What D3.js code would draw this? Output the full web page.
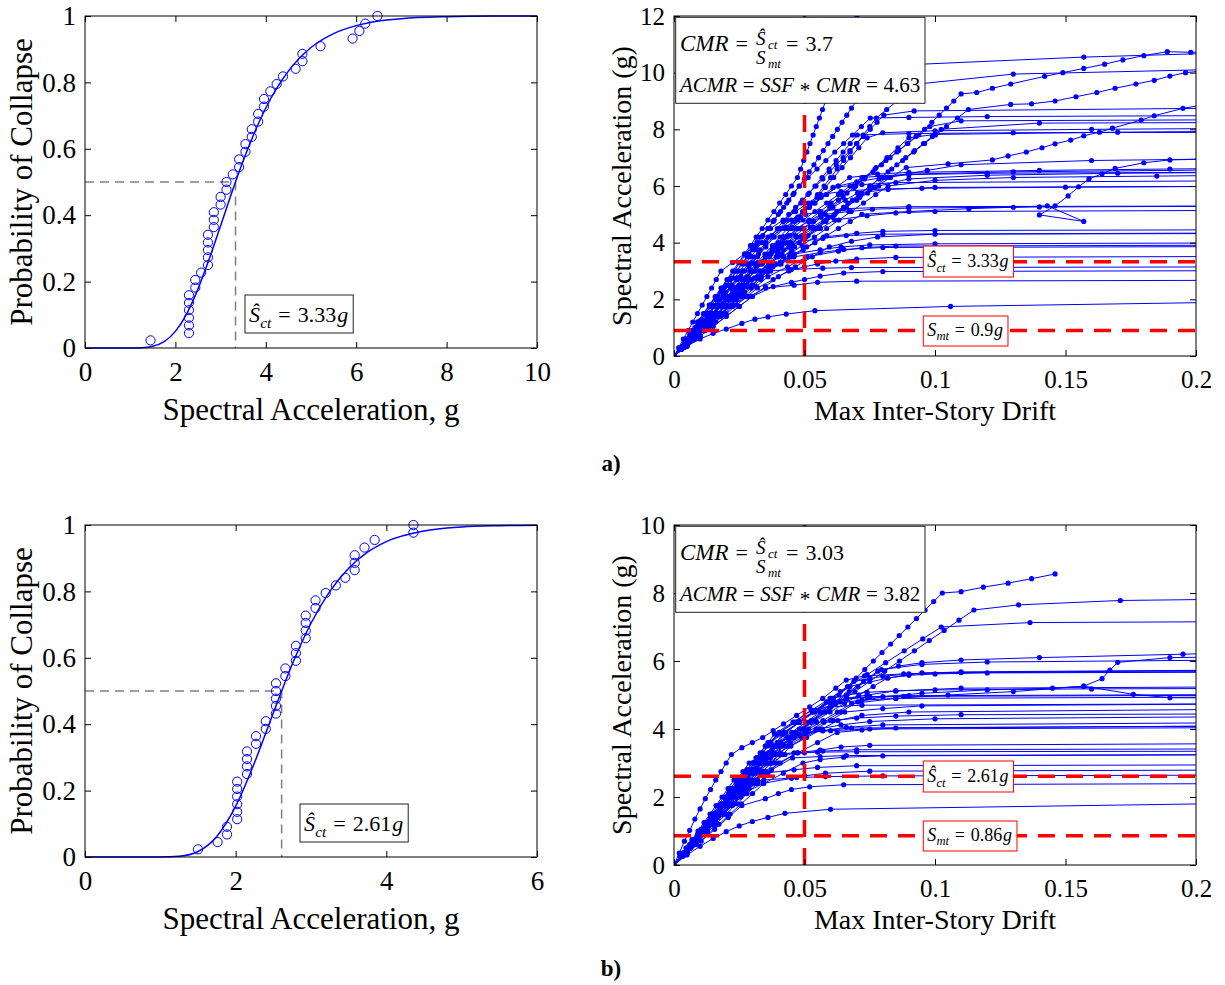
<!DOCTYPE html>
<html><head><meta charset="utf-8">
<script src="https://cdn.jsdelivr.net/npm/d3@7"></script>
<style>
body{margin:0;background:#fff}
svg{display:block}
text{font-family:"Liberation Serif","Times New Roman",serif;fill:#000}
</style>
</head><body>
<svg id="c" width="1225" height="985"></svg>
<script>
// ================= DATA =================
const collapseSaA=[1.45,2.30,2.30,2.30,2.30,2.30,2.30,2.44,2.44,2.57,2.72,2.72,2.72,2.72,2.72,2.85,2.85,2.85,3.00,3.00,3.13,3.13,3.27,3.41,3.41,3.55,3.55,3.69,3.69,3.83,3.83,3.96,3.96,4.10,4.24,4.38,4.66,4.81,4.81,5.21,5.92,6.07,6.20,6.47];
const collapseSaB=[1.50,1.76,1.885,1.885,2.02,2.02,2.02,2.02,2.02,2.02,2.15,2.15,2.15,2.15,2.27,2.27,2.40,2.40,2.535,2.535,2.535,2.535,2.535,2.66,2.66,2.80,2.80,2.80,2.93,2.93,2.93,2.93,3.06,3.06,3.195,3.33,3.455,3.58,3.58,3.58,3.71,3.845,4.36,4.36];
const probEmp=[0.023,0.045,0.068,0.091,0.114,0.136,0.159,0.182,0.205,0.227,0.250,0.273,0.295,0.318,0.341,0.364,0.386,0.409,0.432,0.455,0.477,0.500,0.523,0.545,0.568,0.591,0.614,0.636,0.659,0.682,0.705,0.727,0.750,0.773,0.795,0.818,0.841,0.864,0.886,0.909,0.932,0.955,0.977,1.000];
const fitA_x=[0,0.5,1,1.25,1.5,1.75,2,2.25,2.5,2.75,3,3.25,3.5,3.75,4,4.25,4.5,5,5.5,6,6.5,7,8,9,10];
const fitA_p=[0,0,0.0001,0.0008,0.005,0.019,0.050,0.103,0.178,0.269,0.368,0.469,0.564,0.649,0.723,0.784,0.834,0.905,0.947,0.971,0.985,0.992,0.998,1.0,1.0];
const fitB_x=[0,0.5,1,1.25,1.5,1.75,2,2.25,2.5,2.75,3,3.25,3.5,3.75,4,4.5,5,5.5,6];
const fitB_p=[0,0,0.0001,0.0023,0.0166,0.062,0.153,0.284,0.434,0.580,0.704,0.800,0.870,0.918,0.950,0.982,0.994,0.998,0.9995];
const medianA=3.33, medianB=2.61;
const smtA=0.9, smtB=0.86;
const driftLimit=0.05;
const cmrA="3.7", acmrA="4.63", cmrB="3.03", acmrB="3.82";
const sctLabelA="3.33", sctLabelB="2.61", smtLabelA="0.9", smtLabelB="0.86";

const fragTicksXA=[0,2,4,6,8,10], fragTicksXB=[0,2,4,6];
const probTicks=[0,0.2,0.4,0.6,0.8,1];
const driftTicks=[0,0.05,0.1,0.15,0.2];
const saTicksA=[0,2,4,6,8,10,12], saTicksB=[0,2,4,6,8,10];

// IDA intensity levels (g) used by the runs
const saGrid1=[0.3,0.6,0.9,1.2,1.5,1.8,2.1,2.4,2.7,3.0,3.3,3.6,3.9,4.2,4.5,4.8,5.1,5.4,5.7,6.0,6.3,6.6,6.9,7.2,7.5,7.8,8.1,8.4,8.7,9.0,9.3,9.6,9.9,10.2,10.5,10.8,11.1,11.4,11.7,12.0,12.3,12.6];
const saGrid2=[0.25,0.5,0.75,1,1.25,1.5,1.75,2,2.25,2.5,2.75,3,3.25,3.5,3.75,4,4.25,4.5,4.75,5,5.25,5.5,5.75,6,6.25,6.5,6.75,7,7.25,7.5,7.75,8,8.25,8.5,8.75,9,9.25,9.5,9.75,10,10.25];
const saGrid3=[0.35,0.7,1.05,1.4,1.75,2.1,2.45,2.8,3.15,3.5,3.85,4.2,4.55,4.9,5.25,5.6,5.95,6.3,6.65,7,7.35,7.7,8.05,8.4,8.75,9.1,9.45,9.8,10.15,10.5,10.85,11.2,11.55,11.9,12.25];

// (a) IDA records: g = intensity grid, d = max drift at each level, tail = [drift, Sa] near/after collapse
const idaA=[
{g:1,d:[.0023,.0045,.0068,.009,.0113,.0135,.0158,.018,.0203,.0225,.0248,.027,.0293,.0315,.0338,.036,.0383,.0405,.0428,.045,.0473,.0485,.0497,.0509,.0521,.0533,.0545,.0557,.0569,.0581,.0593,.0605,.0617,.0629,.0641,.0653,.0665,.0677,.0689,.0701,.0713,.0725],tail:[]},
{g:2,d:[.002,.004,.006,.008,.01,.012,.014,.016,.018,.02,.022,.024,.026,.028,.03,.032,.034,.036,.038,.04,.042,.044,.046,.048,.05,.0518,.0536,.0554,.0572,.059,.0608,.0626,.0644,.0662,.068,.0698,.0728,.0758,.0788,.0818,.0848],tail:[[.095,10.3],[.157,10.55],[.25,10.8]]},
{g:1,d:[.003,.006,.009,.012,.015,.018,.021,.024,.027,.03,.033,.036,.039,.042,.045,.0475,.05,.0525,.055,.0575,.06,.0625,.065,.0675,.07,.0725,.075,.0775,.0815,.0855,.0895,.0935],tail:[[.13,9.95],[.25,10.2]]},
{g:2,d:[.0025,.005,.0075,.01,.0125,.015,.0175,.02,.0225,.025,.0275,.03,.0333,.0366,.0399,.0432,.0465,.0498,.0531,.0564,.0597,.063,.0663,.0696,.0729,.0762,.0795,.0828,.0861,.0894,.0927,.096,.0988,.1016,.1044,.1072,.11],tail:[[.116,9.3],[.122,9.45],[.129,9.6],[.142,9.87],[.149,10],[.157,10.15],[.165,10.3],[.172,10.45],[.18,10.6],[.189,10.74],[.198,10.72],[.25,10.8]]},
{g:1,d:[.0033,.0066,.0099,.0132,.0165,.0198,.0231,.0264,.0297,.033,.0372,.0414,.0456,.0498,.054,.0582,.0624,.0666,.0708,.075,.0792,.0834,.0876,.0918,.096,.1002,.1044,.1086,.1128],tail:[[.129,8.88],[.137,8.9],[.146,9],[.154,9.15],[.162,9.3],[.169,9.45],[.177,9.6],[.184,9.73],[.19,9.88],[.196,10],[.25,10.5]]},
{g:3,d:[.0035,.007,.0105,.014,.0175,.021,.0245,.028,.0315,.035,.041,.047,.053,.059,.065,.071,.077,.083,.089],tail:[[.105,6.78],[.122,6.92],[.128,7.06],[.135,7.2],[.141,7.35],[.146,7.49],[.152,7.62],[.157,7.77],[.163,7.9],[.168,8.04],[.179,8.33],[.184,8.48],[.195,8.74],[.25,9.6]]},
{g:2,d:[.003,.006,.009,.012,.015,.018,.021,.024,.027,.03,.033,.036,.0405,.045,.0495,.054,.0585,.063,.0675,.072],tail:[[.09,5.1],[.113,5.2],[.13,5.25],[.143,5.3],[.157,4.75],[.14,4.98],[.146,5.3],[.151,5.65],[.155,5.97],[.159,6.25],[.164,6.43],[.169,6.62],[.18,6.82],[.19,6.92],[.25,7.05]]},
{g:1,d:[.0024,.0048,.0072,.0096,.012,.0144,.0168,.0192,.0216,.024,.0264,.0288,.0312,.0336,.036,.0384,.0408,.0432,.0456,.048,.0514,.0548,.0582,.0616,.065,.0684,.0718,.0752],tail:[[.09,8.42],[.12,8.45],[.25,8.5]]},
{g:2,d:[.0022,.0044,.0066,.0088,.011,.0132,.0154,.0176,.0198,.022,.0242,.0264,.0286,.0308,.033,.0352,.0374,.0396,.0418,.044,.0466,.0492,.0518,.0544,.057,.0596,.0622,.0648,.0674,.07,.0726,.0752,.0778,.0804],tail:[[.092,8.65],[.25,8.78]]},
{g:3,d:[.0035,.007,.0105,.014,.0175,.021,.0245,.028,.0315,.035,.0385,.042,.0452,.0484,.0516,.0548,.058,.0612,.0644,.0676,.0708,.074],tail:[[.08,7.88],[.1,7.95],[.16,8],[.25,8.05]]},
{g:1,d:[.0031,.0062,.0093,.0124,.0155,.0186,.0217,.0248,.0279,.031,.0341,.0372,.0403,.0434,.0476,.0518,.056,.0602,.0644,.0686,.0728,.077,.0812,.0854,.0896,.0938,.098],tail:[[.11,8.3],[.25,8.35]]},
{g:2,d:[.003,.006,.009,.012,.015,.018,.021,.024,.027,.03,.033,.036,.039,.042,.045,.048,.0514,.0548,.0582,.0616,.065,.0684,.0718,.0752,.0786,.082,.0854,.0888,.0922,.0956,.099,.1024],tail:[[.14,8.22],[.25,8.25]]},
{g:1,d:[.0027,.0054,.0081,.0108,.0135,.0162,.0189,.0216,.0243,.027,.0297,.0324,.0351,.0378,.0405,.0432,.0459,.0486,.0513,.054,.0567,.0594,.0621,.0648,.0675,.0702],tail:[[.09,7.85],[.13,7.88],[.25,7.9]]},
{g:3,d:[.004,.008,.012,.016,.02,.024,.028,.032,.036,.04,.044,.048,.0522,.0564,.0606,.0648,.069,.0732,.0774,.0816,.0858,.09],tail:[[.1,7.82],[.17,7.9],[.25,7.95]]},
{g:1,d:[.003,.006,.009,.012,.015,.018,.021,.024,.027,.03,.033,.036,.039,.042,.045,.0495,.054,.0585,.063,.0675,.072],tail:[[.09,6.42],[.13,6.5],[.25,6.6]]},
{g:2,d:[.0028,.0056,.0084,.0112,.014,.0168,.0196,.0224,.0252,.028,.0308,.0336,.0364,.0392,.042,.0448,.049,.0532,.0574,.0616,.0658,.07,.0742,.0784],tail:[[.09,6.25],[.12,6.38],[.17,6.45],[.25,6.5]]},
{g:3,d:[.0032,.0064,.0096,.0128,.016,.0192,.0224,.0256,.0288,.032,.0352,.0384,.0429,.0474,.0519,.0564,.0609],tail:[[.072,6.05],[.085,6.12],[.25,6.2]]},
{g:1,d:[.0037,.0074,.0111,.0148,.0185,.0222,.0259,.0296,.0333,.037,.0407,.0444,.0491,.0538,.0585,.0632,.0679,.0726,.0773,.082],tail:[[.1,6.2],[.13,6.3],[.185,6.35],[.25,6.4]]},
{g:2,d:[.0026,.0052,.0078,.0104,.013,.0156,.0182,.0208,.0234,.026,.0286,.0312,.0338,.0364,.039,.0416,.0442,.0468,.0515,.0562,.0609,.0656,.0703],tail:[[.082,5.88],[.1,5.95],[.25,6]]},
{g:3,d:[.0042,.0084,.0126,.0168,.021,.0252,.0294,.0336,.0378,.042,.0462,.0504,.0556,.0608,.066,.0712,.0764,.0816],tail:[[.097,6.55],[.11,6.75],[.16,6.9],[.25,7]]},
{g:1,d:[.0029,.0058,.0087,.0116,.0145,.0174,.0203,.0232,.0261,.029,.0319,.0348,.0377,.0406,.0435,.0464,.0493,.0538,.0583,.0628,.0673],tail:[[.078,6.42],[.09,6.48],[.14,6.55],[.19,6.6],[.25,6.65]]},
{g:2,d:[.0025,.005,.0075,.01,.0125,.015,.0175,.02,.0225,.025,.0275,.03,.0325,.035,.0375,.04,.0445,.049,.0535,.058],tail:[[.067,5.1],[.076,5.18],[.09,5.22],[.14,5.26],[.25,5.3]]},
{g:1,d:[.0033,.0066,.0099,.0132,.0165,.0198,.0231,.0264,.0297,.033,.0363,.0396,.0451,.0506,.0561,.0616],tail:[[.074,4.95],[.085,5.05],[.1,5.1],[.25,5.15]]},
{g:3,d:[.0042,.0084,.0126,.0168,.021,.0252,.0294,.0336,.0378,.0443,.0508,.0573],tail:[[.07,4.33],[.08,4.4],[.1,4.43],[.25,4.46]]},
{g:2,d:[.0022,.0044,.0066,.0088,.011,.0132,.0154,.0176,.0198,.022,.0242,.0264,.0309,.0354,.0399,.0444],tail:[[.057,4.15],[.066,4.25],[.08,4.3],[.25,4.35]]},
{g:1,d:[.0033,.0066,.0099,.0132,.0165,.0198,.0231,.0264,.0297,.0352,.0407,.0462],tail:[[.056,3.75],[.064,3.85],[.075,3.92],[.1,3.96],[.25,4]]},
{g:3,d:[.0045,.009,.0135,.018,.0225,.027,.0315,.036,.0435,.051],tail:[[.063,3.7],[.072,3.82],[.085,3.88],[.25,3.92]]},
{g:2,d:[.0026,.0052,.0078,.0104,.013,.0156,.0182,.0208,.0234,.026,.031,.036,.041,.046],tail:[[.056,3.65],[.065,3.76],[.08,3.83],[.25,3.87]]},
{g:1,d:[.004,.008,.012,.016,.02,.024,.028,.032,.038,.044],tail:[[.05,3.15],[.055,3.25],[.062,3.35],[.07,3.42],[.085,3.48],[.25,3.52]]},
{g:2,d:[.0025,.005,.0075,.01,.0125,.015,.0175,.02,.0225,.027,.0315,.036],tail:[[.045,3.05],[.057,3.1],[.068,3.12],[.25,3.15]]},
{g:3,d:[.005,.01,.015,.02,.025,.03,.038],tail:[[.045,2.6],[.05,2.7],[.056,2.82],[.065,2.93],[.08,2.98],[.25,3.02]]},
{g:1,d:[.0037,.0074,.0111,.0148,.0185,.0222,.0287,.0352],tail:[[.046,2.5],[.055,2.6],[.07,2.64],[.25,2.68]]},
{g:1,d:[],tail:[[.005,.35],[.01,.6],[.015,.8],[.02,.95],[.026,1.15],[.031,1.3],[.036,1.38],[.043,1.48],[.054,1.6],[.106,1.75],[.25,1.95]]},
{g:2,d:[.0021,.0042,.0063,.0084,.0105,.0126,.0147,.0168,.0189,.021,.0231,.0252,.0273,.0294,.0315,.0336,.0378,.042,.0462,.0504],tail:[[.056,5.1],[.065,5.2],[.09,5.27],[.25,5.3]]},
{g:1,d:[.0023,.0046,.0069,.0092,.0115,.0138,.0161,.0184,.0207,.023,.0253,.0276,.0299,.0322,.037,.0418,.0466,.0514,.0562],tail:[[.064,5.8],[.075,5.88],[.095,5.92],[.15,5.96],[.25,6]]},
{g:3,d:[.005,.01,.015,.02,.025,.03,.035,.04,.0465,.053,.0595],tail:[[.068,4.05],[.078,4.2],[.1,4.3],[.25,4.33]]},
{g:1,d:[.0018,.0036,.0054,.0072,.009,.0108,.0126,.0144,.0162,.018,.0225,.027,.0315,.036,.0405,.045,.0495,.054,.0585,.063],tail:[[.07,6.15],[.08,6.3],[.09,6.4],[.12,6.45],[.25,6.5]]}
];

// (b) IDA records
const idaB=[
{g:2,d:[.0025,.005,.0075,.01,.0125,.015,.0175,.02,.0225,.025,.0275,.03,.035,.04,.045,.05,.0533,.0566,.0599,.0632,.0665,.0698,.0731,.0764,.0797,.083,.0863,.0896,.0929,.0962,.0995,.1028],tail:[[.11,8.04],[.1185,8.17],[.128,8.29],[.137,8.42],[.146,8.56]]},
{g:1,d:[.0034,.0068,.0102,.0136,.017,.0204,.0238,.0272,.0306,.034,.0374,.0408,.0465,.0522,.0579,.0636,.0693,.075,.0807,.0864,.0921,.0978,.1035,.1092,.1149],tail:[[.132,7.65],[.171,7.78],[.25,7.85]]},
{g:3,d:[.0035,.007,.0105,.014,.0175,.021,.0245,.028,.0315,.035,.0385,.0456,.0527,.0598,.0669,.074,.0811,.0882,.0953,.1024],tail:[[.1364,7.13],[.25,7.17]]},
{g:1,d:[],tail:[[.002,.35],[.004,.7],[.006,1.02],[.008,1.35],[.01,1.65],[.012,1.95],[.014,2.22],[.016,2.5],[.018,2.75],[.02,3],[.022,3.25],[.026,3.45],[.03,3.6],[.034,3.75],[.038,3.95],[.042,4.15],[.047,4.4],[.052,4.65],[.057,4.9],[.062,5.2],[.066,5.44],[.073,5.56],[.088,5.62],[.11,5.68],[.25,5.75]]},
{g:1,d:[.0033,.0066,.0099,.0132,.0165,.0198,.0231,.0264,.0297,.033,.0363,.0396,.0451,.0506,.0561,.0616,.0671,.0726,.0781],tail:[[.086,5.85],[.095,5.95],[.11,6.03],[.14,6.1],[.195,6.2],[.25,6.3]]},
{g:2,d:[.003,.006,.009,.012,.015,.018,.021,.024,.027,.03,.033,.036,.039,.042,.045,.048,.0525,.057,.0615,.066,.0705,.075,.0795],tail:[[.095,5.9],[.12,5.97],[.25,6.05]]},
{g:3,d:[.0038,.0076,.0114,.0152,.019,.0228,.0266,.0304,.0342,.038,.0418,.0482,.0546,.061,.0674],tail:[[.082,5.5],[.095,5.65],[.25,5.75]]},
{g:1,d:[.0037,.0074,.0111,.0148,.0185,.0222,.0259,.0296,.0333,.037,.0407,.0444,.0509,.0574,.0639,.0704],tail:[[.08,4.95],[.095,5.05],[.12,5.15],[.145,5.2],[.157,5.26],[.176,5.02],[.19,4.92],[.25,4.9]]},
{g:2,d:[.0029,.0058,.0087,.0116,.0145,.0174,.0203,.0232,.0261,.029,.0319,.0348,.0377,.0406,.0461,.0516,.0571,.0626,.0681],tail:[[.085,4.9],[.105,5],[.13,5.1],[.157,5.26],[.164,5.48],[.167,5.73],[.17,5.96],[.19,6.1],[.25,6.15]]},
{g:3,d:[.0039,.0078,.0117,.0156,.0195,.0234,.0273,.0312,.0351,.039,.0458,.0526,.0594,.0662],tail:[[.074,5],[.085,5.12],[.11,5.2],[.25,5.25]]},
{g:1,d:[.0031,.0062,.0093,.0124,.0155,.0186,.0217,.0248,.0279,.031,.0341,.0372,.0403,.0468,.0533,.0598],tail:[[.066,4.9],[.075,4.95],[.09,4.98],[.25,5.02]]},
{g:2,d:[.0031,.0062,.0093,.0124,.0155,.0186,.0217,.0248,.0279,.031,.0341,.0372,.0403,.0434,.0489,.0544,.0599,.0654],tail:[[.08,4.6],[.095,4.68],[.25,4.75]]},
{g:3,d:[.0038,.0076,.0114,.0152,.019,.0228,.0266,.0304,.0342,.038,.0418,.048,.0542,.0604],tail:[[.066,5],[.074,5.08],[.085,5.12],[.1,5.15],[.16,5.18],[.25,5.2]]},
{g:1,d:[.003,.006,.009,.012,.015,.018,.021,.024,.027,.03,.033,.036,.042,.048,.054,.06],tail:[[.066,4.88],[.074,4.93],[.088,4.96],[.25,5]]},
{g:2,d:[.0028,.0056,.0084,.0112,.014,.0168,.0196,.0224,.0252,.028,.0308,.0336,.0391,.0446,.0501,.0556],tail:[[.064,4.12],[.075,4.22],[.1,4.3],[.25,4.38]]},
{g:3,d:[.0037,.0074,.0111,.0148,.0185,.0222,.0259,.0296,.0333,.0403,.0473],tail:[[.057,3.95],[.066,4.05],[.08,4.12],[.25,4.2]]},
{g:1,d:[.004,.008,.012,.016,.02,.024,.028,.032,.036,.04,.0475,.055,.0625],tail:[[.072,3.97],[.085,4.03],[.25,4.1]]},
{g:2,d:[.0024,.0048,.0072,.0096,.012,.0144,.0168,.0192,.0216,.024,.0264,.0288,.0338,.0388,.0438],tail:[[.05,3.85],[.057,3.95],[.068,4.03],[.25,4.1]]},
{g:3,d:[.0041,.0082,.0123,.0164,.0205,.0246,.0287,.0328,.0369,.041,.0478,.0546],tail:[[.061,4.25],[.07,4.32],[.085,4.38],[.11,4.42],[.25,4.45]]},
{g:1,d:[.0038,.0076,.0114,.0152,.019,.0228,.0266,.0304,.0342,.0407,.0472],tail:[[.056,3.38],[.064,3.47],[.075,3.52],[.25,3.58]]},
{g:2,d:[.0026,.0052,.0078,.0104,.013,.0156,.0182,.0208,.0234,.026,.0315,.037,.0425],tail:[[.05,3.3],[.057,3.35],[.07,3.39],[.25,3.42]]},
{g:3,d:[.0042,.0084,.0126,.0168,.021,.0252,.0294,.0374,.0454],tail:[[.056,3.19],[.066,3.22],[.25,3.25]]},
{g:1,d:[.0043,.0086,.0129,.0172,.0215,.0258,.0301,.0344,.0419,.0494],tail:[[.056,3.1],[.065,3.17],[.08,3.21],[.25,3.25]]},
{g:2,d:[.0023,.0046,.0069,.0092,.0115,.0138,.0161,.0184,.0207,.023,.028,.033,.038],tail:[[.046,3.3],[.055,3.32],[.07,3.33],[.25,3.35]]},
{g:1,d:[.0038,.0076,.0114,.0152,.019,.0228,.0266,.0341],tail:[[.045,2.55],[.05,2.62],[.058,2.7],[.075,2.76],[.25,2.8]]},
{g:2,d:[.0028,.0056,.0084,.0112,.014,.0168,.0196,.0224,.0284,.0344],tail:[[.047,2.57],[.058,2.6],[.08,2.62],[.25,2.65]]},
{g:3,d:[.0052,.0104,.0156,.0208,.026],tail:[[.035,1.95],[.04,2.1],[.045,2.22],[.052,2.3],[.065,2.36],[.25,2.4]]},
{g:1,d:[.0032,.0064,.0096,.0128,.016,.0192,.0224,.0284,.0344],tail:[[.046,2.8],[.055,2.87],[.07,2.92],[.25,2.95]]},
{g:1,d:[],tail:[[.005,.3],[.01,.55],[.015,.78],[.02,.98],[.025,1.15],[.03,1.28],[.036,1.4],[.0425,1.52],[.06,1.64],[.25,1.85]]},
{g:2,d:[.0027,.0054,.0081,.0108,.0135,.0162,.0189,.0216,.0243,.027,.0297,.0324,.0351,.0378,.0433,.0488,.0543,.0598,.0653,.0708,.0763,.0818],tail:[[.09,5.58],[.1,5.62],[.12,5.65],[.25,5.68]]},
{g:3,d:[.0035,.007,.0105,.014,.0175,.021,.0245,.028,.0315,.035,.0415,.048,.0545],tail:[[.062,4.75],[.072,4.85],[.085,4.9],[.25,4.95]]},
{g:1,d:[.0033,.0066,.0099,.0132,.0165,.0198,.0231,.0264,.0297,.033,.0363,.0396,.0429,.0481,.0533,.0585,.0637,.0689],tail:[[.08,5.55],[.09,5.62],[.11,5.66],[.25,5.7]]},
{g:2,d:[.0032,.0064,.0096,.0128,.016,.0192,.0224,.0256,.0288,.032,.0352,.0384,.0416,.0448,.0508,.0568,.0628],tail:[[.072,4.4],[.09,4.5],[.25,4.6]]},
{g:3,d:[.0036,.0072,.0108,.0144,.018,.0216,.0252,.0288,.0324,.036,.0396,.0461,.0526],tail:[[.06,4.65],[.072,4.7],[.25,4.75]]},
{g:1,d:[.0035,.007,.0105,.014,.0175,.021,.0245,.028,.0315,.035,.0385,.0445,.0505],tail:[[.06,3.95],[.075,4],[.25,4.05]]}
];

// ================= DRAWING =================
const svg=d3.select("#c");
const FONT="Liberation Serif";
const BLUE="#0000ff", RED="#ff0000";
const grids={1:saGrid1,2:saGrid2,3:saGrid3};
const fmt=d=>String(+(+d).toFixed(3));

function axes(g,x,y,xt,yt,tfs){
  const [x0,x1]=x.range(), [yb,yt0]=y.range();
  const st=s=>{s.select(".domain").remove();s.attr("font-size",tfs).attr("font-family",FONT);s.selectAll("text").attr("fill","#000");};
  g.append("g").attr("transform",`translate(0,${yb})`)
   .call(d3.axisBottom(x).tickValues(xt).tickSizeInner(-6).tickSizeOuter(0).tickPadding(14).tickFormat(fmt)).call(st);
  g.append("g").attr("transform",`translate(0,${yt0})`)
   .call(d3.axisTop(x).tickValues(xt).tickSizeInner(-6).tickSizeOuter(0).tickFormat("")).call(st);
  g.append("g").attr("transform",`translate(${x0},0)`)
   .call(d3.axisLeft(y).tickValues(yt).tickSizeInner(-6).tickSizeOuter(0).tickPadding(9).tickFormat(fmt)).call(st);
  g.append("g").attr("transform",`translate(${x1},0)`)
   .call(d3.axisRight(y).tickValues(yt).tickSizeInner(-6).tickSizeOuter(0).tickFormat("")).call(st);
  g.append("rect").attr("x",x0).attr("y",yt0).attr("width",x1-x0).attr("height",yb-yt0)
   .attr("fill","none").attr("stroke","#000").attr("stroke-width",1);
}
function labels(g,x,y,xl,yl,yOff,xOff,fs){
  const [x0,x1]=x.range(), [yb,yt0]=y.range();
  g.append("text").attr("x",(x0+x1)/2).attr("y",yb+yOff).attr("text-anchor","middle").attr("font-size",fs).attr("font-family",FONT).text(xl);
  g.append("text").attr("transform",`translate(${x0-xOff},${(yb+yt0)/2}) rotate(-90)`).attr("text-anchor","middle").attr("font-size",fs).attr("font-family",FONT).text(yl);
}
function mathRun(g,x,y,parts){
  let cx=x;
  parts.forEach(p=>{
    cx+=(p.pre||0);
    const t=g.append("text").attr("x",cx).attr("y",y+(p.dy||0)).attr("font-size",p.fs)
      .attr("font-family",FONT).attr("font-style",p.it?"italic":"normal").text(p.t);
    cx+=t.node().getComputedTextLength();
  });
  return cx-x;
}
function piece(g,x,y,t,fs,it){
  return g.append("text").attr("x",x).attr("y",y).attr("font-size",fs).attr("font-family",FONT)
    .attr("font-style",it?"italic":"normal").text(t);
}
function shatParts(s,val){
  return [{t:"Ŝ",it:1,fs:s},{t:"ct",it:1,fs:0.7*s,dy:0.25*s,pre:0.01*s},{t:"=",fs:s,pre:0.32*s},{t:val,fs:s,pre:0.32*s},{t:"g",it:1,fs:s,pre:0.04*s}];
}
function smtParts(s,val){
  return [{t:"S",it:1,fs:s},{t:"mt",it:1,fs:0.7*s,dy:0.25*s,pre:0.01*s},{t:"=",fs:s,pre:0.32*s},{t:val,fs:s,pre:0.32*s},{t:"g",it:1,fs:s,pre:0.04*s}];
}
function textBox(g,bx,by,bh,parts,stroke,padL,padR,base){
  const rect=g.append("rect").attr("x",bx).attr("y",by).attr("height",bh).attr("fill","#fff").attr("stroke",stroke).attr("stroke-width",1);
  const w=mathRun(g,bx+padL,by+base,parts);
  rect.attr("width",padL+w+padR);
}

function fragility(oy,domainX,ticksX,sa,prob,fx,fp,median){
  const x=d3.scaleLinear().domain(domainX).range([85,537]);
  const y=d3.scaleLinear().domain([0,1]).range([oy+332,oy]);
  const g=svg.append("g");
  g.append("path").attr("d",`M${x(0)},${y(0.5)}H${x(median)}V${y(0)}`)
    .attr("fill","none").attr("stroke","#808080").attr("stroke-width",1.5).attr("stroke-dasharray","9,6");
  const line=d3.line().x((d,i)=>x(fx[i])).y((d,i)=>y(fp[i])).curve(d3.curveMonotoneX);
  g.append("path").attr("d",line(fx)).attr("fill","none").attr("stroke",BLUE).attr("stroke-width",1.5);
  g.selectAll("circle.e").data(sa).join("circle").attr("cx",d=>x(d)).attr("cy",(d,i)=>y(prob[i])).attr("r",4.6)
    .attr("fill","none").attr("stroke",BLUE).attr("stroke-width",1);
  axes(g,x,y,ticksX,probTicks,27);
  labels(g,x,y,"Spectral Acceleration, g","Probability of Collapse",72,53,31);
  return {g,x,y};
}

function ida(oy,yMax,records,ticksY,sct,smt,ann){
  const x=d3.scaleLinear().domain([0,0.2]).range([674,1196]);
  const y=d3.scaleLinear().domain([0,yMax]).range([oy+340,oy]);
  const g=svg.append("g");
  const cid="clip"+oy;
  g.append("clipPath").attr("id",cid).append("rect").attr("x",674).attr("y",oy).attr("width",522).attr("height",340);
  const pg=g.append("g").attr("clip-path",`url(#${cid})`);
  const line=d3.line().x(d=>x(d[0])).y(d=>y(d[1]));
  records.forEach(r=>{
    const grid=grids[r.g];
    const pts=[[0,0]].concat(r.d.map((v,i)=>[v,grid[i]]),r.tail);
    pg.append("path").attr("d",line(pts)).attr("fill","none").attr("stroke",BLUE).attr("stroke-width",1);
    pg.selectAll(null).data(pts).join("circle").attr("cx",d=>x(d[0])).attr("cy",d=>y(d[1])).attr("r",2.6).attr("fill",BLUE);
  });
  const dash=(d)=>pg.append("path").attr("d",d).attr("stroke",RED).attr("stroke-width",3.5).attr("stroke-dasharray","17,11").attr("fill","none");
  dash(`M${x(driftLimit)},${y(0)}V${y(yMax)}`);
  dash(`M${x(0)},${y(sct)}H${x(0.2)}`);
  dash(`M${x(0)},${y(smt)}H${x(0.2)}`);
  axes(g,x,y,driftTicks,ticksY,25);
  labels(g,x,y,"Max Inter-Story Drift","Spectral Acceleration (g)",64,43,28);
  // CMR box
  const bx=675.7, by=oy+1.3;
  g.append("rect").attr("x",bx).attr("y",by).attr("width",249.3).attr("height",86).attr("fill","#fff").attr("stroke","#222").attr("stroke-width",1);
  const b1=by+33.5, b2=by+75;
  const wC=mathRun(g,680,b1,[{t:"CMR",it:1,fs:23},{t:"=",fs:22,pre:7}]);
  const fx0=680+wC+8;
  piece(g,fx0,b1-6,"Ŝ",19,1); piece(g,fx0+12,b1-2,"ct",13,1);
  piece(g,fx0,b1+13,"S",19,1); piece(g,fx0+12,b1+17,"mt",13,1);
  mathRun(g,fx0+30,b1,[{t:"=",fs:22},{t:ann.cmr,fs:22,pre:7}]);
  const f=21, sp=0.27*f;
  mathRun(g,680,b2,[{t:"ACMR",it:1,fs:f},{t:"=",fs:f,pre:sp},{t:"SSF",it:1,fs:f,pre:sp},{t:"*",fs:f,pre:sp,dy:5},{t:"CMR",it:1,fs:f,pre:sp},{t:"=",fs:f,pre:sp},{t:ann.acmr,fs:f,pre:sp}]);
  textBox(g,923.3,ann.sctBoxY,31,shatParts(18,ann.sctLabel),RED,4,5,21);
  textBox(g,923.3,ann.smtBoxY,30,smtParts(18,ann.smtLabel),RED,4,5,19.5);
  return {g,x,y};
}

const fa=fragility(16,[0,10],fragTicksXA,collapseSaA,probEmp,fitA_x,fitA_p,medianA);
textBox(fa.g,245,295,38,shatParts(22,sctLabelA),"#222",4,5,27);
ida(16,12,idaA,saTicksA,medianA,smtA,{cmr:cmrA,acmr:acmrA,sctLabel:sctLabelA,smtLabel:smtLabelA,sctBoxY:246,smtBoxY:316});
const fb=fragility(525,[0,6],fragTicksXB,collapseSaB,probEmp,fitB_x,fitB_p,medianB);
textBox(fb.g,300,804,38,shatParts(22,sctLabelB),"#222",4,5,27);
ida(525,10,idaB,saTicksB,medianB,smtB,{cmr:cmrB,acmr:acmrB,sctLabel:sctLabelB,smtLabel:smtLabelB,sctBoxY:761,smtBoxY:821});

svg.append("text").attr("x",611).attr("y",471).attr("text-anchor","middle").attr("font-size",23).attr("font-weight","bold").attr("font-family",FONT).text("a)");
svg.append("text").attr("x",611).attr("y",976).attr("text-anchor","middle").attr("font-size",23).attr("font-weight","bold").attr("font-family",FONT).text("b)");
</script>
</body></html>
